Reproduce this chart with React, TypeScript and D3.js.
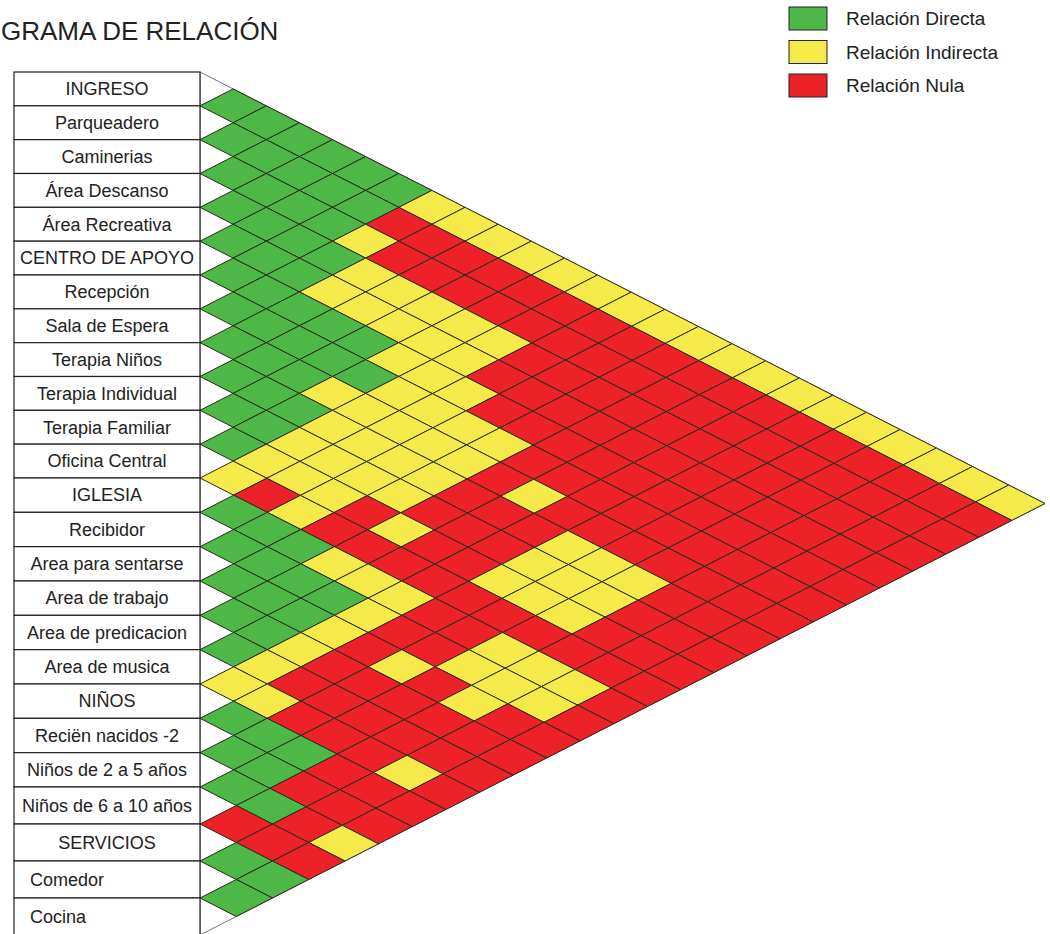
import React from "react";
import * as d3 from "d3";

const rowLabels: string[] = [
  "INGRESO", "Parqueadero", "Caminerias", "Área Descanso", "Área Recreativa",
  "CENTRO DE APOYO", "Recepción", "Sala de Espera", "Terapia Niños", "Terapia Individual",
  "Terapia Familiar", "Oficina Central", "IGLESIA", "Recibidor", "Area para sentarse",
  "Area de trabajo", "Area de predicacion", "Area de musica", "NIÑOS", "Reciën nacidos -2",
  "Niños de 2 a 5 años", "Niños de 6 a 10 años", "SERVICIOS", "Comedor", "Cocina",
];

// relation of row i with rows i+1 .. 24  (G = directa, Y = indirecta, R = nula)
const relations: string[] = [
  "GGGGGGYYYYYYYYYYYYYYYYYY",
  "GGGGGRRRRRRRRRRRRRRRRRR",
  "GGGGYRRRRRRRRRRRRRRRRR",
  "GGGGYYYYYRRRRRRRRRRRR",
  "GGGYYYYYRRRRRRRRRRRR",
  "GGGGGYYYRRRRRRRRRRR",
  "GGGGGYYYYRRRRRRRRR",
  "GGGYYYYYRYRRRRRRR",
  "GGGYYYYRRRYYYRRR",
  "GGYYYYRRRYYYRRR",
  "GYYYRYRRYYYRRR",
  "YRYRRRRRRRRRR",
  "GGGYYYRRYYYR",
  "GGGGYRRYYYR",
  "GGGYRYRYRR",
  "GGYRRRRRR",
  "GYRRRRRR",
  "YYRRRYR",
  "GGGRRR",
  "GGRRR",
  "GGRY",
  "RRR",
  "GG",
  "G",
];

const legendLabels: string[] = ["Relación Directa", "Relación Indirecta", "Relación Nula"];
const legendKeys: string[] = ["G", "Y", "R"];
const titleText = "GRAMA DE RELACIÓN";

const palette: Record<string, string> = { G: "#4db848", Y: "#f6ea4a", R: "#ec2228" };

export default function App() {
  const W = 1050, H = 934;
  const n = rowLabels.length;
  // row boundary positions (index 0..n)
  const yB = d3.scaleLinear().domain([0, 12, 21, 24]).range([72, 478, 787, 898]);
  const span = yB(n) - yB(0);
  const xOff = d3.scaleLinear().domain([0, span]).range([200, 1045]);
  const vtx = (a: number, b: number): [number, number] => [xOff(yB(b) - yB(a)), (yB(a) + yB(b)) / 2];
  const line = d3.line<[number, number]>().x(d => d[0]).y(d => d[1]).curve(d3.curveLinearClosed);

  const cells: { key: string; path: string; fill: string }[] = [];
  relations.forEach((str, i) => {
    str.split("").forEach((c, idx) => {
      const j = i + 1 + idx;
      const pts: [number, number][] = [
        vtx(i + 1, j), vtx(i, j), vtx(i, j + 1), vtx(i + 1, j + 1),
      ];
      cells.push({ key: `${i}-${j}`, path: line(pts) as string, fill: palette[c] });
    });
  });

  const outline = line([vtx(0, 0), vtx(0, n), vtx(n, n)]) as string;

  const font = "'Liberation Sans', Arial, sans-serif";

  return (
    <svg width={W} height={H} style={{ position: "absolute", left: 0, top: 0, background: "#fff" }}>
      <rect x={0} y={0} width={W} height={H} fill="#fff" />
      <text x={1} y={40} fontFamily={font} fontSize={26} fill="#222">{titleText}</text>

      {legendLabels.map((l, k) => (
        <g key={l}>
          <rect x={789} y={7 + k * 33.5} width={38} height={23} fill={palette[legendKeys[k]]} stroke="#222" strokeWidth={1} />
          <text x={846} y={25 + k * 33.5} fontFamily={font} fontSize={19} fill="#222">{l}</text>
        </g>
      ))}

      <path d={outline} fill="#fff" stroke="#777" strokeWidth={1} />

      {cells.map(c => (
        <path key={c.key} d={c.path} fill={c.fill} stroke="#2a2a1a" strokeWidth={1} strokeLinejoin="round" />
      ))}

      {rowLabels.map((l, i) => {
        const left = l === "Comedor" || l === "Cocina";
        return (
          <g key={l}>
            <rect x={14} y={yB(i)} width={186} height={yB(i + 1) - yB(i)} fill="#fff" stroke="#222" strokeWidth={1.2} />
            <text
              x={left ? 30 : 107}
              y={(yB(i) + yB(i + 1)) / 2}
              dy="0.35em"
              textAnchor={left ? "start" : "middle"}
              fontFamily={font}
              fontSize={18}
              fill="#222"
            >{l}</text>
          </g>
        );
      })}
    </svg>
  );
}
